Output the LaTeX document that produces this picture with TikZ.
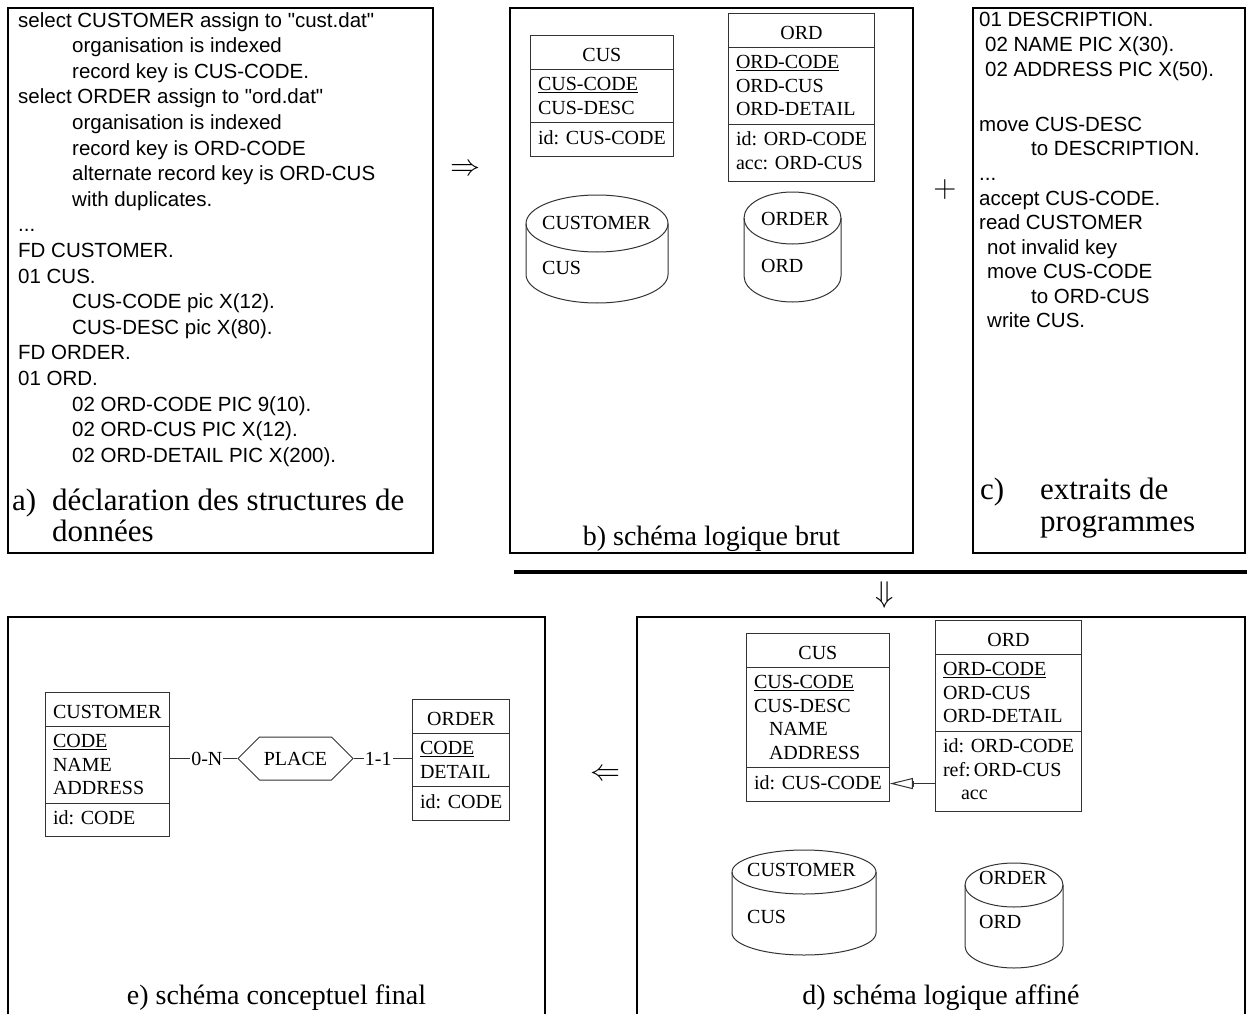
\RequirePackage{fix-cm}
\documentclass[tikz,border=0pt]{standalone}
\usepackage{fontspec}
\setmainfont{Liberation Serif}
\usepackage{colortbl}
\usetikzlibrary{positioning,arrows.meta,shapes.symbols}
\font\codefnt="Liberation Sans" at 20.5pt
\setlength\arrayrulewidth{1pt}
\setlength\tabcolsep{7pt}
\arrayrulecolor{black!80}
\newcommand\codeind{\hspace*{54pt}}
\newcommand\rowtop[1]{\rule{0pt}{#1pt}}
\newcommand\rowbot[1]{\rule[-#1pt]{0pt}{#1pt}}
\newcommand\etitle[1]{\multicolumn{1}{|c|}{\rowtop{25.5}#1\rowbot{7}}}
% centre x, x radius, top y, bottom y, y radius
\newcommand\datafile[5]{%
  \draw[fileline] (#1,#3) ellipse [x radius=#2, y radius=#5];
  \draw[fileline] ({#1-#2},#3) -- ({#1-#2},#4)
     arc[start angle=180, end angle=0, x radius=#2, y radius=#5] -- ({#1+#2},#3);}
\tikzset{panel/.style={draw, line width=2.5pt}}
\tikzset{codebox/.style={inner sep=0pt, anchor=north west, font={\fontsize{20.5}{#1}\selectfont\codefnt}}}
\tikzset{ent/.style={inner sep=0pt, outer sep=0pt, anchor=north west, font=\fontsize{20}{23.5}\selectfont}}
\tikzset{fname/.style={inner sep=0pt, anchor=base west, font=\fontsize{20}{23.5}\selectfont}}
\tikzset{fileline/.style={draw=black!80, line width=1pt}}
\tikzset{capt/.style={inner sep=0pt, anchor=base, font=\fontsize{28}{28}\selectfont}}
\tikzset{captbig/.style={inner sep=0pt, anchor=base west, font=\fontsize{31}{31}\selectfont}}
\tikzset{sym/.style={inner sep=0pt, font=\fontsize{30}{30}\selectfont}}
\tikzset{lnk/.style={draw=black!80, line width=1pt}}
\tikzset{card/.style={fill=white, inner sep=1pt, font=\fontsize{20}{23.5}\selectfont}}
\tikzset{rel/.style={shape=signal, signal to=west and east, signal pointer angle=90,
   draw=black!80, line width=1pt, minimum width=115pt, minimum height=43pt,
   inner xsep=2pt, font=\fontsize{20}{23.5}\selectfont}}
\tikzset{refarr/.style={lnk, -{Bar[width=6pt]Triangle[open, length=23pt, width=11pt]}}}

\begin{document}
\begin{tikzpicture}[x=1pt, y=-1pt]
\useasboundingbox (0,0) rectangle (1247,1014);
\clip (0,0) rectangle (1247,1014);

% frames
\draw[panel] (8,8) rectangle (433,553);
\draw[panel] (510,8) rectangle (913,553);
\draw[panel] (973,8) rectangle (1245,553);
\draw[panel] (8,617) rectangle (545,1030);
\draw[panel] (637,617) rectangle (1245,1030);
\draw[line width=4pt] (514,572) -- (1247,572);

\node[sym] (toB) at (465,170) {$\Rightarrow$};
\node[sym, font=\fontsize{32}{32}\selectfont] (plus) at (945,190) {$+$};
\node[sym] (toD) at (885,595) {$\Downarrow$};
\node[sym] (toE) at (605,775) {$\Leftarrow$};

% a) declarations
\node[codebox=25.6pt] (decl) at (18,8.9) {\begin{tabular}{@{}l@{}}
select CUSTOMER assign to "cust.dat"\\
\codeind organisation is indexed\\
\codeind record key is CUS-CODE.\\
select ORDER assign to "ord.dat"\\
\codeind organisation is indexed\\
\codeind record key is ORD-CODE\\
\codeind alternate record key is ORD-CUS\\
\codeind with duplicates.\\
...\\
FD CUSTOMER.\\
01 CUS.\\
\codeind CUS-CODE pic X(12).\\
\codeind CUS-DESC pic X(80).\\
FD ORDER.\\
01 ORD.\\
\codeind 02 ORD-CODE PIC 9(10).\\
\codeind 02 ORD-CUS PIC X(12).\\
\codeind 02 ORD-DETAIL PIC X(200).
\end{tabular}};
\node[captbig] (capA) at (12,510) {\makebox[40pt][l]{a)}déclaration des structures de};
\node[captbig] (capA2) at (52,541) {données};

% b) raw logical schema
\node[ent] (cusB) at (530,35) {\begin{tabular}{|l|}\hline
\etitle{CUS}\\\hline
\rowtop{21}\underline{CUS-CODE}\\
CUS-DESC\rowbot{8}\\\hline
\rowtop{21}id: CUS-CODE\rowbot{11.5}\\\hline
\end{tabular}};
\node[ent] (ordB) at (728,13) {\begin{tabular}{|l|}\hline
\etitle{ORD}\\\hline
\rowtop{21}\underline{ORD-CODE}\\
ORD-CUS\\
ORD-DETAIL\rowbot{8}\\\hline
\rowtop{21}id: ORD-CODE\\
acc: ORD-CUS\rowbot{11.5}\\\hline
\end{tabular}};
\datafile{597}{71}{223.5}{274.5}{28.5}
\datafile{792.5}{48.5}{218}{276}{26}
\node[fname] (custFB) at (542,229.5) {CUSTOMER};
\node[fname] (cusRB) at (542,274.5) {CUS};
\node[fname] (ordFB) at (761,225.5) {ORDER};
\node[fname] (ordRB) at (761,272.5) {ORD};
\node[capt] (capB) at (711.5,545) {b) schéma logique brut};

% c) program fragments
\node[codebox=24.5pt] (prog) at (979,9.65) {\begin{tabular}{@{}l@{}}
01 DESCRIPTION.\\
\hspace*{6pt}02 NAME PIC X(30).\\
\hspace*{6pt}02 ADDRESS PIC X(50).\\[31pt]
move CUS-DESC\\
\hspace*{52pt}to DESCRIPTION.\\
...\\
accept CUS-CODE.\\
read CUSTOMER\\
\hspace*{8pt}not invalid key\\
\hspace*{8pt}move CUS-CODE\\
\hspace*{52pt}to ORD-CUS\\
\hspace*{8pt}write CUS.
\end{tabular}};
\node[captbig] (capC) at (980,499) {\makebox[60pt][l]{c)}extraits de};
\node[captbig] (capC2) at (1040,531) {programmes};

% d) refined logical schema
\node[ent] (cusD) at (746,633) {\begin{tabular}{|l|}\hline
\etitle{CUS}\\\hline
\rowtop{21}\underline{CUS-CODE}\\
CUS-DESC\\
\hspace*{15pt}NAME\\
\hspace*{15pt}ADDRESS\rowbot{8}\\\hline
\rowtop{21}id: CUS-CODE\rowbot{11.5}\\\hline
\end{tabular}};
\node[ent] (ordD) at (935,620) {\begin{tabular}{|l|}\hline
\etitle{ORD}\\\hline
\rowtop{21}\underline{ORD-CODE}\\
ORD-CUS\\
ORD-DETAIL\rowbot{8}\\\hline
\rowtop{21}id: ORD-CODE\\
ref:\hspace{3pt}ORD-CUS\\
\hspace*{18pt}acc\rowbot{11.5}\\\hline
\end{tabular}};
\coordinate (reftip) at ([yshift=18pt]cusD.south east);
\draw[refarr] (ordD.west |- reftip) -- (reftip);
\datafile{804}{72}{872}{933}{22}
\datafile{1014}{49}{885}{946}{22}
\node[fname] (custFD) at (747,876.5) {CUSTOMER};
\node[fname] (cusRD) at (747,923.5) {CUS};
\node[fname] (ordFD) at (979,884.5) {ORDER};
\node[fname] (ordRD) at (979,928.5) {ORD};
\node[capt] (capD) at (941,1004) {d) schéma logique affiné};

% e) final conceptual schema
\node[ent] (custE) at (45,692) {\begin{tabular}{|l|}\hline
\etitle{CUSTOMER}\\\hline
\rowtop{21}\underline{CODE}\\
NAME\\
ADDRESS\rowbot{8}\\\hline
\rowtop{21}id: CODE\rowbot{11.5}\\\hline
\end{tabular}};
\node[ent] (ordE) at (412,699) {\begin{tabular}{|l|}\hline
\etitle{ORDER}\\\hline
\rowtop{21}\underline{CODE}\\
DETAIL\rowbot{8}\\\hline
\rowtop{21}id: CODE\rowbot{11.5}\\\hline
\end{tabular}};
\node[rel] (place) at (295.5,758.5) {PLACE};
\draw[lnk] (place.west -| custE.east) -- node[card, pos=0.55]{0-N} (place.west);
\draw[lnk] (place.east) -- node[card, pos=0.42]{1-1} (place.east -| ordE.west);
\node[capt] (capE) at (276.5,1004) {e) schéma conceptuel final};
\end{tikzpicture}
\end{document}
